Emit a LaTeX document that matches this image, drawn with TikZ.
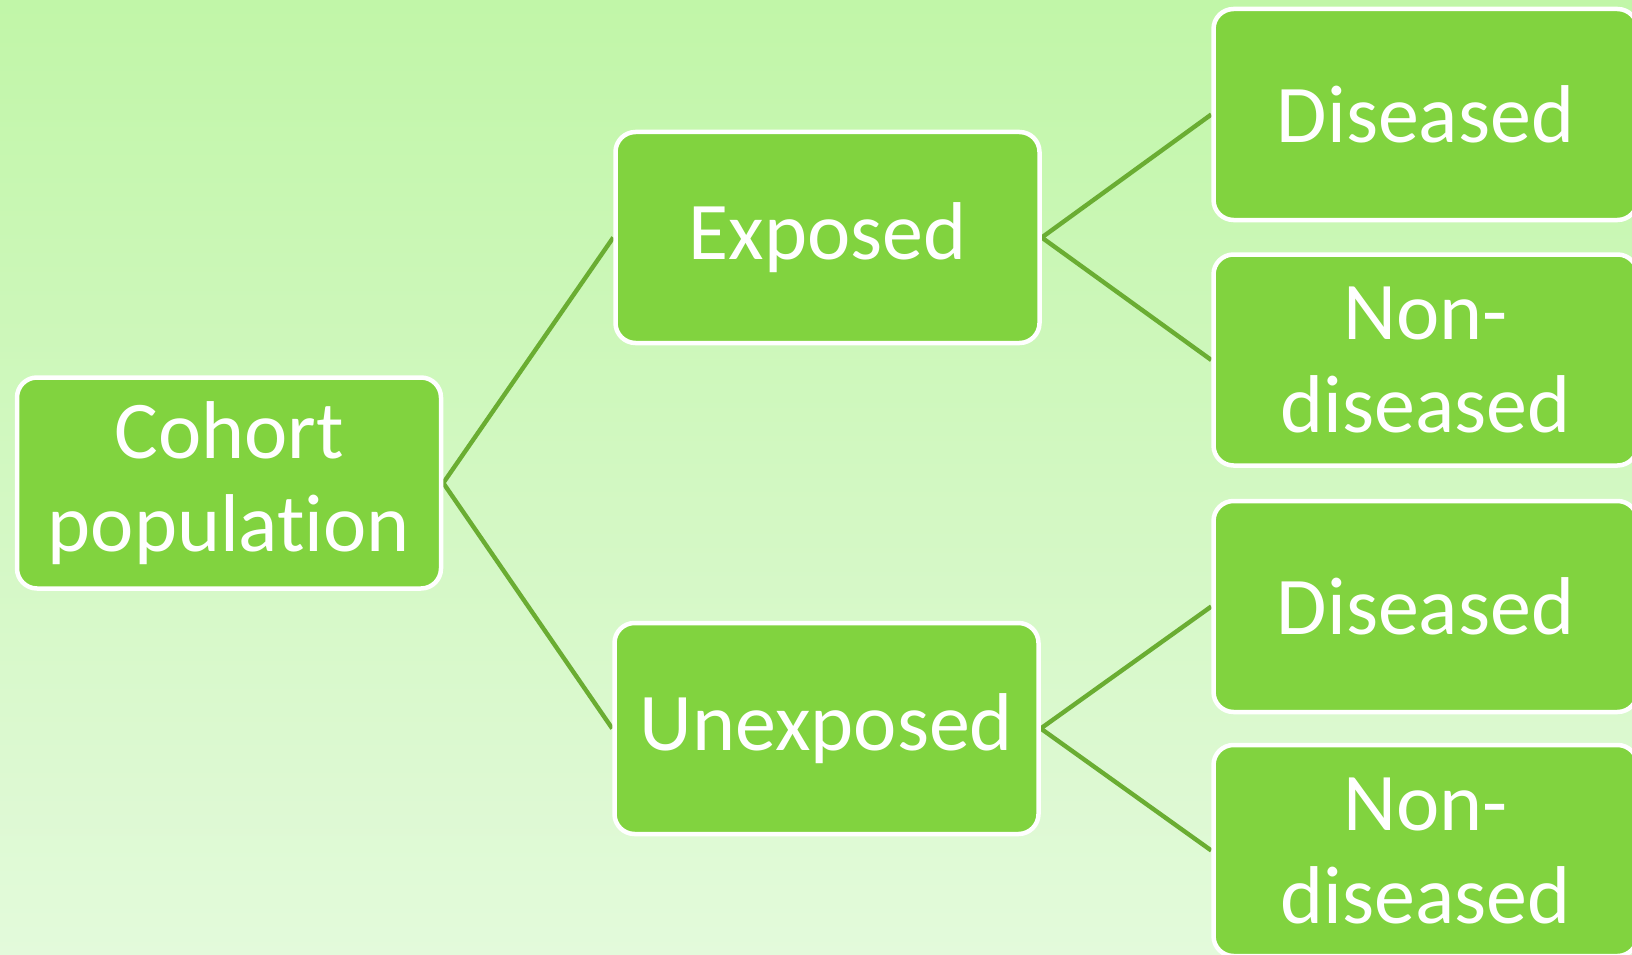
\documentclass[tikz,border=0pt]{standalone}
\usepackage{fontspec}
\setmainfont{Carlito}[Ligatures=CommonOff]
\usetikzlibrary{backgrounds}
\definecolor{bgtop}{HTML}{C1F6A8}
\definecolor{bgbot}{HTML}{E3FADB}
\definecolor{boxfill}{HTML}{81D33F}
\definecolor{linkc}{HTML}{6AAD32}
\begin{document}
\begin{tikzpicture}[x=1pt,y=-1pt,
  box/.style={draw=white, line width=4.5pt, fill=boxfill, rounded corners=20pt,
    minimum width=424pt, minimum height=211pt, inner sep=0pt, text=white,
    align=center, font=\fontsize{82}{93}\selectfont},
  link/.style={draw=linkc, line width=4.4pt}]
\useasboundingbox (0,0) rectangle (1632,955);

% tree nodes
\node[box] (cohort) at (229,483) {Cohort\\population};
\node[box] (exp) at (827.5,237.5) {Exposed};
\node[box] (unexp) at (826.5,728.5) {Unexposed};
\node[box] (dis1) at (1425.5,114.5) {Diseased};
\node[box] (non1) at (1425.5,360) {Non-\\diseased};
\node[box] (dis2) at (1425.5,606.5) {Diseased};
\node[box] (non2) at (1425.5,850.5) {Non-\\diseased};

% background and branches, under the boxes
\begin{scope}[on background layer]
  \shade[top color=bgtop, bottom color=bgbot] (0,0) rectangle (1632,955);
  \draw[link] (cohort.east) -- (exp.west);
  \draw[link] (cohort.east) -- (unexp.west);
  \draw[link] (exp.east) -- (dis1.west);
  \draw[link] (exp.east) -- (non1.west);
  \draw[link] (unexp.east) -- (dis2.west);
  \draw[link] (unexp.east) -- (non2.west);
\end{scope}
\end{tikzpicture}
\end{document}
